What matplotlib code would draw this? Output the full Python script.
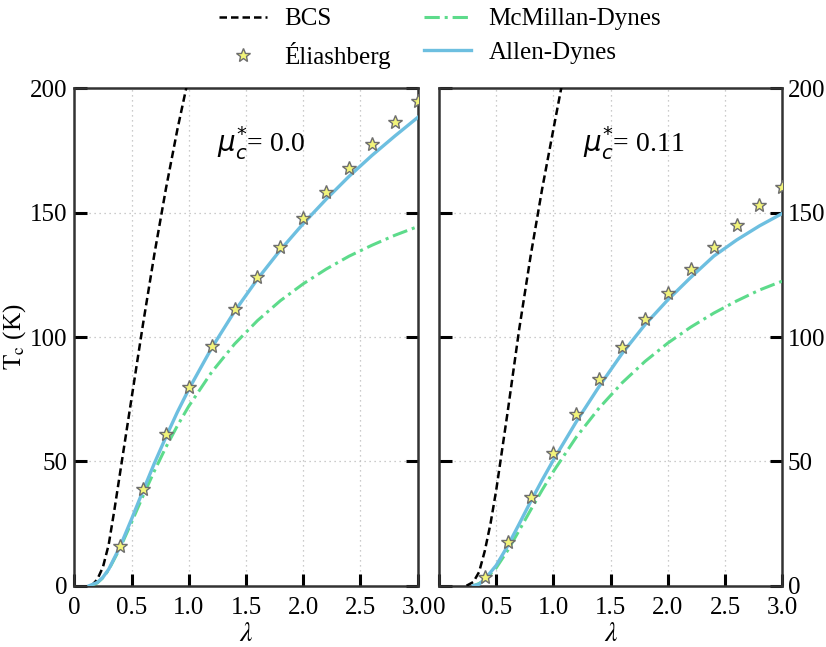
import matplotlib
matplotlib.use("Agg")
import matplotlib.pyplot as plt
import numpy as np

plt.rcParams['font.family'] = ['Liberation Serif', 'DejaVu Serif']
plt.rcParams['mathtext.fontset'] = 'stix'

# ---------------- data ----------------
# mu* = 0.0 panel
bcs_lam_0 = [0.15, 0.2, 0.25, 0.3, 0.35, 0.4, 0.5, 0.6, 0.7, 0.8, 0.9, 1.0]
bcs_tc_0 = [0.0, 2.5, 7.5, 16.5, 30.5, 45.5, 75.4, 105.2, 133.5, 159.6, 183.4, 204.9]

md_lam_0 = [0.14, 0.2, 0.25, 0.3, 0.4, 0.5, 0.6, 0.7, 0.8, 0.9, 1.0, 1.2, 1.4, 1.6,
            1.8, 2.0, 2.2, 2.4, 2.6, 2.8, 3.0]
md_tc_0 = [0.0, 1.1, 3.2, 6.4, 15.2, 25.5, 36.1, 46.2, 55.7, 64.3, 72.2, 85.9, 97.2,
           106.6, 114.6, 121.4, 127.3, 132.5, 136.9, 140.9, 144.4]

ad_lam_0 = [0.13, 0.2, 0.25, 0.3, 0.4, 0.5, 0.6, 0.7, 0.8, 0.9, 1.0, 1.2, 1.4, 1.6,
            1.8, 2.0, 2.2, 2.4, 2.6, 2.8, 3.0]
ad_tc_0 = [0.0, 1.3, 3.4, 6.6, 15.8, 26.8, 38.2, 49.3, 59.8, 69.8, 79.0, 95.6, 110.3,
           123.3, 135.0, 145.6, 155.4, 164.6, 173.0, 180.8, 188.3]

el_lam_0 = [0.4, 0.6, 0.8, 1.0, 1.2, 1.4, 1.6, 1.8, 2.0, 2.2, 2.4, 2.6, 2.8, 3.0]
el_tc_0 = [16.0, 38.9, 60.9, 79.8, 96.4, 111.1, 124.2, 136.3, 147.7, 158.2, 167.8,
           177.5, 186.3, 195.0]

# mu* = 0.11 panel
bcs_lam_1 = [0.24, 0.3, 0.35, 0.4, 0.45, 0.5, 0.6, 0.7, 0.8, 0.9, 1.0, 1.08]
bcs_tc_1 = [0.0, 1.5, 5.5, 14.0, 25.0, 38.5, 70.0, 103.0, 132.5, 159.3, 183.7, 203.0]

md_lam_1 = [0.3, 0.35, 0.4, 0.5, 0.6, 0.7, 0.8, 0.9, 1.0, 1.2, 1.4, 1.6, 1.8, 2.0,
            2.2, 2.4, 2.6, 2.8, 3.0]
md_tc_1 = [0.0, 0.9, 2.3, 7.2, 14.2, 22.2, 30.4, 38.4, 46.0, 59.8, 71.5, 81.6, 90.2,
           97.6, 104.0, 109.6, 114.5, 118.9, 122.5]

ad_lam_1 = [0.3, 0.35, 0.4, 0.5, 0.6, 0.7, 0.8, 0.9, 1.0, 1.2, 1.4, 1.6, 1.8, 2.0,
            2.2, 2.4, 2.6, 2.8, 3.0]
ad_tc_1 = [0.0, 0.6, 2.6, 8.2, 16.0, 24.8, 33.8, 42.4, 50.6, 66.0, 80.2, 93.4, 105.0,
           115.0, 124.0, 132.5, 139.0, 144.7, 149.7]

el_lam_1 = [0.4, 0.6, 0.8, 1.0, 1.2, 1.4, 1.6, 1.8, 2.0, 2.2, 2.4, 2.6, 2.8, 3.0]
el_tc_1 = [3.6, 17.7, 35.8, 53.2, 69.0, 83.2, 95.8, 107.2, 117.6, 127.5, 136.2,
           144.9, 153.1, 160.2]

mu_labels = ["0.0", "0.11"]
x_ticks = [0, 0.5, 1.0, 1.5, 2.0, 2.5, 3.0]
x_ticklabels = ["0", "0.5", "1.0", "1.5", "2.0", "2.5", "3.0"]
y_ticks = [0, 50, 100, 150, 200]
series_labels = ["BCS", "Éliashberg", "McMillan-Dynes", "Allen-Dynes"]

# ---------------- styles ----------------
c_bcs = "black"
c_md = "#5ddb8b"
c_ad = "#6dbfe0"
star_face = "#f2f47a"
star_edge = "#6e6e6e"
FS = 18

fig = plt.figure(figsize=(8.26, 6.47), dpi=100)
ax0 = fig.add_axes([0.09, 0.0947, 0.4157, 0.7688])
ax1 = fig.add_axes([0.5315, 0.0947, 0.4157, 0.7688])

panels = [
    (ax0, bcs_lam_0, bcs_tc_0, md_lam_0, md_tc_0, ad_lam_0, ad_tc_0, el_lam_0, el_tc_0),
    (ax1, bcs_lam_1, bcs_tc_1, md_lam_1, md_tc_1, ad_lam_1, ad_tc_1, el_lam_1, el_tc_1),
]

handles = None
for i, (ax, bl, bt, ml, mt, al, at, el, et) in enumerate(panels):
    ax.grid(True, linestyle=(0, (1, 3)), color="#bbbbbb", linewidth=0.9)
    ax.set_axisbelow(True)
    h_bcs, = ax.plot(bl, bt, color=c_bcs, ls=(0, (3, 1.6)), lw=1.8, zorder=3)
    h_md, = ax.plot(ml, mt, color=c_md, ls=(0, (5, 1.6, 1, 1.6)), lw=2.2, zorder=3)
    h_ad, = ax.plot(al, at, color=c_ad, ls="-", lw=2.4, zorder=4)
    h_el, = ax.plot(el, et, ls="none", marker="*", ms=10, mfc=star_face, mec=star_edge,
                    mew=1.0, zorder=5)
    handles = [h_bcs, h_el, h_md, h_ad]

    ax.set_xlim(0, 3.0)
    ax.set_ylim(0, 200)
    ax.set_xticks(x_ticks)
    ax.set_xticklabels(x_ticklabels)
    ax.set_yticks(y_ticks)
    ax.tick_params(axis="both", which="major", direction="in", length=9, width=2.2,
                   labelsize=FS, top=False, right=True, left=True, bottom=True,
                   color="black")
    ax.tick_params(axis="x", pad=8)
    ax.tick_params(axis="y", pad=5)
    for sp in ax.spines.values():
        sp.set_linewidth(1.8)
        sp.set_color("#333333")
    ax.set_xlabel(r"$\lambda$", fontsize=FS + 2, labelpad=2)
    ax.text(1.25 if i == 0 else 1.26, 178, r"$\mu_c^{*}$= " + mu_labels[i], fontsize=20,
            family="Liberation Serif", math_fontfamily="dejavusans",
            ha="left", va="center")

ax0.tick_params(axis="y", labelleft=True, labelright=False)
ax1.tick_params(axis="y", labelleft=False, labelright=True, pad=4)
ax0.set_ylabel(r"$\mathrm{T_c}$ (K)", fontsize=FS)
ax0.yaxis.set_label_coords(-0.135, 0.5)

fig.legend(handles, series_labels, loc="center", bbox_to_anchor=(0.533, 0.941),
           ncol=2, frameon=False, fontsize=FS, handlelength=1.9, handletextpad=0.7,
           columnspacing=1.3, labelspacing=0.45)

fig.savefig("out.png", dpi=100)
